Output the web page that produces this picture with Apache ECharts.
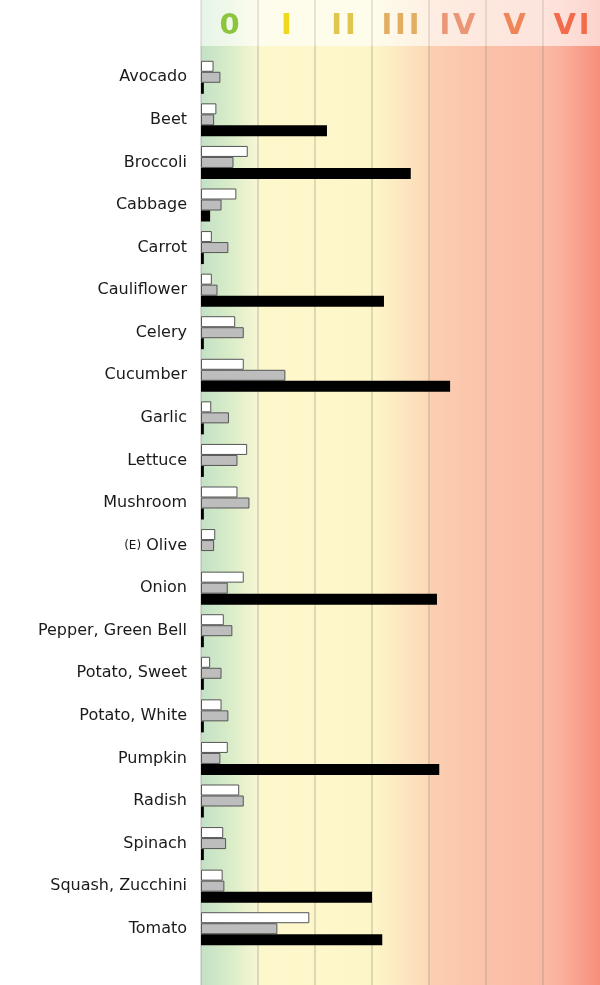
<!DOCTYPE html>
<html>
<head>
<meta charset="utf-8">
<title>Vegetables</title>
<script src="https://cdn.jsdelivr.net/npm/echarts@6/dist/echarts.min.js"></script>
<style>
  html, body { margin: 0; padding: 0; background: #fff; }
  #chart { width: 600px; height: 985px; }
</style>
</head>
<body>
<div id="chart"></div>
<script>
// categories, top to bottom
const vegetables = ['Avocado', 'Beet', 'Broccoli', 'Cabbage', 'Carrot', 'Cauliflower', 'Celery',
  'Cucumber', 'Garlic', 'Lettuce', 'Mushroom', '(E) Olive', 'Onion', 'Pepper, Green Bell',
  'Potato, Sweet', 'Potato, White', 'Pumpkin', 'Radish', 'Spinach', 'Squash, Zucchini', 'Tomato']
// zone headers
const zones = ['0', 'I', 'II', 'III', 'IV', 'V', 'VI']
const zoneColors = ['#8cc43e', '#efd71c', '#dfc64e', '#e2ae62', '#ea9677', '#f08658', '#f26b4a']

const whiteValues = [0.22, 0.27, 0.82, 0.62, 0.19, 0.19, 0.60, 0.75, 0.18, 0.81, 0.64,
  0.25, 0.75, 0.40, 0.16, 0.36, 0.47, 0.67, 0.39, 0.38, 1.90]
const grayValues = [0.34, 0.23, 0.57, 0.36, 0.48, 0.29, 0.75, 1.48, 0.49, 0.64, 0.85,
  0.23, 0.47, 0.55, 0.36, 0.48, 0.34, 0.75, 0.44, 0.41, 1.34]
const blackValues = [0.05, 2.21, 3.68, 0.16, 0.05, 3.21, 0.05, 4.37, 0.05, 0.05, 0.05,
  0, 4.14, 0.05, 0.05, 0.05, 4.18, 0.05, 0.05, 3.00, 3.18]

// background gradient stops (left -> right)
const bgStops = [
  [0, '#c3e1c6'], [0.07, '#d8ecc8'], [0.142, '#f7f6d3'], [0.146, '#fdf8cc'],
  [0.43, '#fdf6c9'], [0.57, '#fcd9b8'], [0.575, '#fccfb2'], [0.714, '#fbc2a9'],
  [0.857, '#fbb9a4'], [0.9, '#fab19d'], [1, '#f78f7c']
]

function mixWhite(hex, t) {
  const n = parseInt(hex.slice(1), 16)
  const ch = [(n >> 16) & 255, (n >> 8) & 255, n & 255].map(c => Math.round(c + (255 - c) * t))
  return 'rgb(' + ch.join(',') + ')'
}

function gradient(stops, light) {
  return new echarts.graphic.LinearGradient(0, 0, 1, 0, stops.map(s => ({
    offset: s[0], color: light ? mixWhite(s[1], light) : s[1]
  })))
}

const chart = echarts.init(document.getElementById('chart'), null, { renderer: 'canvas' })

const barStyle = (fill, border) => ({ color: fill, borderColor: border, borderWidth: border ? 1 : 0 })

chart.setOption({
  animation: false,
  textStyle: { fontFamily: 'DejaVu Sans' },
  grid: [
    { left: 201, right: 0, top: 46, bottom: 0, show: true, borderWidth: 0, backgroundColor: gradient(bgStops) },
    { left: 201, right: 0, top: 0, height: 46, show: true, borderWidth: 0, backgroundColor: gradient(bgStops, 0.62) },
    { left: 201, right: 0, top: 56, bottom: 35 }
  ],
  xAxis: [
    {
      gridIndex: 0, type: 'category', data: zones,
      axisLine: { show: false }, axisTick: { show: false }, axisLabel: { show: false },
      splitLine: { show: true, showMaxLine: false, lineStyle: { color: 'rgba(150,145,130,0.3)', width: 2 } }
    },
    {
      gridIndex: 1, type: 'category', data: zones, position: 'bottom',
      axisLine: { show: false }, axisTick: { show: false },
      axisLabel: {
        inside: true, margin: 20, verticalAlign: 'middle', interval: 0,
        fontSize: 29, fontWeight: 'bold', fontFamily: 'DejaVu Sans',
        formatter: v => v.split('').join('\u200a'),
        color: (v, i) => zoneColors[i]
      },
      splitLine: { show: true, interval: 0, showMaxLine: false, lineStyle: { color: 'rgba(150,145,130,0.22)', width: 2 } }
    },
    { gridIndex: 2, type: 'value', min: 0, max: 7, show: false }
  ],
  yAxis: [
    { gridIndex: 0, type: 'value', min: 0, max: 1, show: false },
    { gridIndex: 1, type: 'value', min: 0, max: 1, show: false },
    {
      gridIndex: 2, type: 'category', data: vegetables, inverse: true,
      axisLine: { show: false }, axisTick: { show: false },
      axisLabel: {
        margin: 14, fontSize: 16, color: '#1a1a1a', fontFamily: 'DejaVu Sans',
        formatter: v => v.indexOf('(E) ') === 0 ? '{s|(E)} ' + v.slice(4) : v,
        rich: { s: { fontSize: 12, color: '#1a1a1a', fontFamily: 'DejaVu Sans' } }
      }
    }
  ],
  series: [
    {
      type: 'bar', xAxisIndex: 2, yAxisIndex: 2, data: whiteValues,
      barWidth: 11, barGap: '0%', itemStyle: barStyle('#ffffff', '#555')
    },
    {
      type: 'bar', xAxisIndex: 2, yAxisIndex: 2, data: grayValues,
      barWidth: 11, barGap: '0%', itemStyle: barStyle('#bdbdbd', '#555')
    },
    {
      type: 'bar', xAxisIndex: 2, yAxisIndex: 2, data: blackValues,
      barWidth: 11, barGap: '0%', itemStyle: barStyle('#000000', null)
    }
  ]
})
</script>
</body>
</html>
